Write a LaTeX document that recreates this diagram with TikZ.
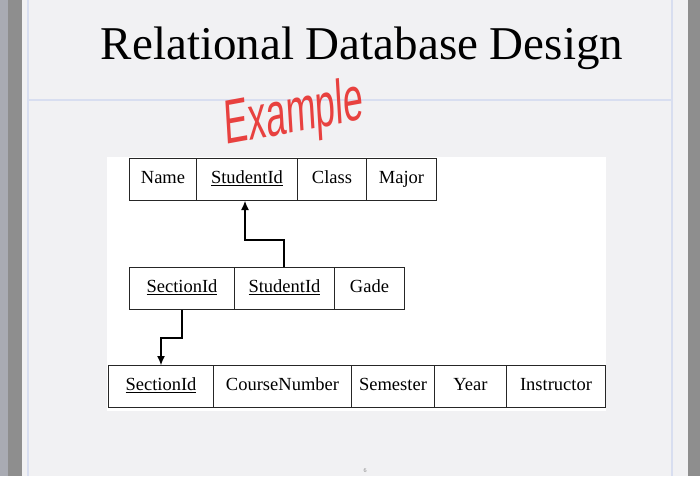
\documentclass[tikz,border=0pt]{standalone}
\usepackage{fontspec}
\setmainfont{Liberation Serif}
\newfontfamily\handfont{Liberation Sans}
\usetikzlibrary{arrows.meta}
\definecolor{bgc}{HTML}{F1F1F3}
\definecolor{lineblue}{HTML}{D8DEF0}
\definecolor{gray1}{HTML}{A9ABB3}
\definecolor{gray2}{HTML}{8E8E8E}
\definecolor{inkred}{HTML}{E8413F}
\tikzset{
  cell/.style={draw=black!85, line width=1pt, minimum height=42pt, inner sep=0pt, anchor=north west, text height=12pt, text depth=4pt, font=\fontsize{18.5}{18.5}\selectfont},
  fk/.style={-{Latex[length=9pt,width=8pt]}, line width=1.1pt},
}
\begin{document}
\begin{tikzpicture}[x=1pt,y=-1pt]
\useasboundingbox (0,0) rectangle (700,476);
\fill[bgc] (0,0) rectangle (700,476);
\fill[gray1] (0,0) rectangle (8,476);
\fill[gray2] (8,0) rectangle (22,476);
\fill[gray2] (688,0) rectangle (700,476);
\draw[lineblue, line width=1.2pt] (28,0) -- (28,476);
\draw[lineblue, line width=1.2pt] (672,0) -- (672,476);
\draw[lineblue, line width=1.2pt] (28,100) -- (672,100);
\node[font=\fontsize{47}{47}\selectfont] (title) at (362,48) {Relational Database Design};
\fill[white] (107,157) rectangle (606,411);
% Table 1
\node[cell, minimum width=67pt] (n1) at (129,158) {Name};
\node[cell, minimum width=101pt] (s1) at (196,158) {\underline{StudentId}};
\node[cell, minimum width=69pt] (c1) at (297,158) {Class};
\node[cell, minimum width=70pt] (m1) at (366,158) {Major};
% Table 2
\node[cell, minimum width=105pt] (sec2) at (129,267) {\underline{SectionId}};
\node[cell, minimum width=100pt] (s2) at (234,267) {\underline{StudentId}};
\node[cell, minimum width=70pt] (g2) at (334,267) {Gade};
% Table 3
\node[cell, minimum width=105pt] (sec3) at (108,365) {\underline{SectionId}};
\node[cell, minimum width=138pt] (cn3) at (213,365) {CourseNumber};
\node[cell, minimum width=83pt] (sem3) at (351,365) {Semester};
\node[cell, minimum width=72pt] (y3) at (434,365) {Year};
\node[cell, minimum width=99pt] (i3) at (506,365) {Instructor};
% connectors
\coordinate (a1) at (284,240);
\coordinate (a2) at (245,240);
\draw[fk] (s2.north -| a1) -- (a1) -- (a2) -- (s1.south -| a2);
\coordinate (b1) at (182,338);
\coordinate (b2) at (161,338);
\draw[fk] (sec2.south -| b1) -- (b1) -- (b2) -- (sec3.north -| b2);
% handwriting
\node[inkred, font=\handfont\fontsize{50}{50}\selectfont, xscale=0.72, yscale=1.25, rotate=6] (ex) at (294,116) {Example};
\node[gray, font=\fontsize{6}{6}\selectfont] (pg) at (365,471) {6};
\end{tikzpicture}
\end{document}
